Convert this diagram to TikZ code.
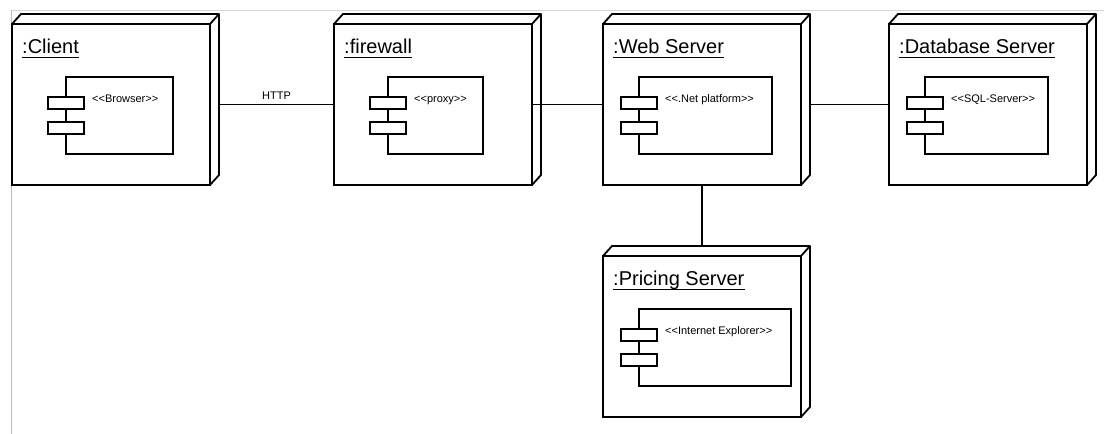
\documentclass[tikz,border=0pt]{standalone}
\usepackage{fontspec}
\newfontfamily\umlfont{Liberation Sans}
\definecolor{framegray}{RGB}{214,214,214}
\definecolor{frameteal}{RGB}{140,205,200}

\tikzset{
    device/.style={draw, line width=1.8pt, minimum width=198pt, minimum height=161pt,
        anchor=north west, inner sep=0pt, outer sep=0pt},
    comp/.style={draw, line width=1.5pt, fill=white, minimum height=77pt,
        anchor=north west, inner sep=0pt, outer sep=0pt},
    port/.style={draw, line width=1.5pt, fill=white, minimum width=36pt, minimum height=12pt,
        inner sep=0pt, outer sep=0pt},
    devtitle/.style={font=\umlfont\fontsize{20}{24}\selectfont, anchor=base west, inner sep=0pt},
    stereo/.style={font=\umlfont\fontsize{11}{13}\selectfont, anchor=base west, inner sep=0pt},
    link/.style={line width=1.4pt}
}

\begin{document}
\begin{tikzpicture}[x=1pt,y=-1pt]
            \useasboundingbox (0,0) rectangle (1104,434);

            % Frame of the page
            \draw [framegray, line width=1pt] (11,10) -- (1104,10);
            \draw [frameteal, line width=1pt] (11.5,10) -- (11.5,434);

            % Devices with their component
            \foreach \nm/\px/\py/\ttl/\cx/\cw/\st in {
            client/12/24/{:Client}/54/107/{<<Browser>>},
            firewall/334/24/{:firewall}/54/95/{<<proxy>>},
            web/603/24/{:Web Server}/36/133/{<<.Net platform>>},
            db/889/24/{:Database Server}/36/123/{<<SQL-Server>>},
            pricing/603/256/{:Pricing Server}/36/152/{<<Internet Explorer>>}} {
            \node [device] (\nm) at (\px,\py) {};
            \draw [line width=1.8pt, line join=round] (\nm.north west) -- ++(9,-10) -- ++(198,0)
                -- ++(0,161) -- (\nm.south east) (\nm.north east) -- ++(9,-10);
            \node [devtitle] (\nm-title) at (\px+10,\py+29) {\ttl};
            \draw [line width=1.2pt] ([yshift=-4.5pt]\nm-title.base west) -- ([yshift=-4.5pt]\nm-title.base east);
            \node [comp, minimum width=\cw pt] (\nm-comp) at (\px+\cx,\py+53) {};
            \node [port] (\nm-porta) at ([yshift=-26pt]\nm-comp.north west) {};
            \node [port] (\nm-portb) at ([yshift=-51pt]\nm-comp.north west) {};
            \node [stereo] (\nm-st) at (\px+\cx+26,\py+78) {\st};
            }

            % Connections
            \draw [link] ([xshift=9pt]client.east) -- node [font=\umlfont\fontsize{11}{13}\selectfont, above=4pt, inner sep=0pt] (http) {HTTP} (firewall.west);
            \draw [link] (firewall.east) -- (web.west);
            \draw [link] ([xshift=9pt]web.east) -- (db.west);
            \draw [link] (web.south) -- ([yshift=10pt]pricing.north);
        \end{tikzpicture}
\end{document}
